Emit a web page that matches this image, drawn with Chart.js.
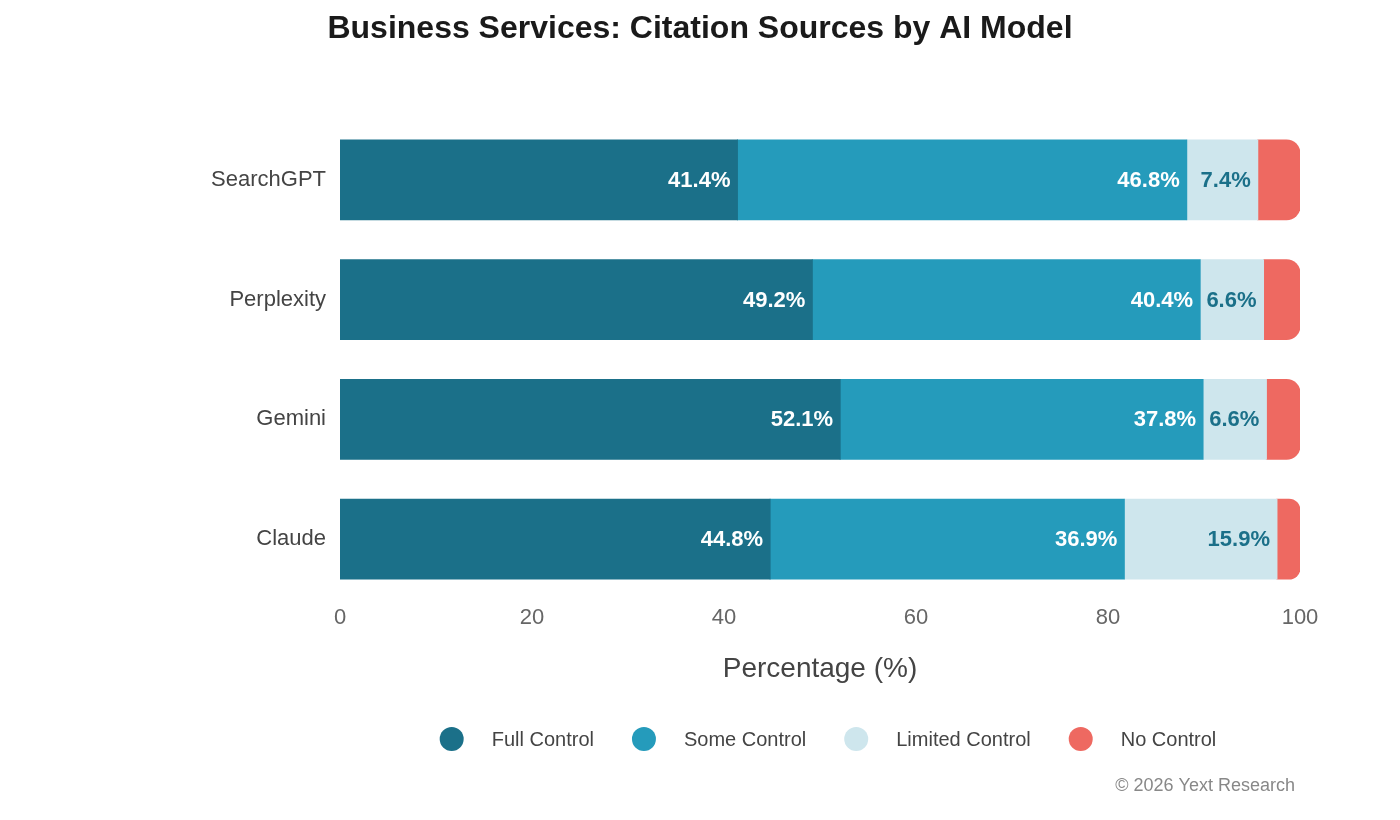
<!DOCTYPE html>
<html>
<head>
<meta charset="utf-8">
<title>Business Services: Citation Sources by AI Model</title>
<script src="https://cdn.jsdelivr.net/npm/chart.js@4.4.1/dist/chart.umd.min.js"></script>
<style>
  html, body { margin: 0; padding: 0; background: #fff; }
  #wrap { width: 1400px; height: 820px; position: relative; }
</style>
</head>
<body>
<div id="wrap"><canvas id="chart" width="1400" height="820"></canvas></div>
<script>
// data
const models = ['SearchGPT', 'Perplexity', 'Gemini', 'Claude'];
const fullControl = [41.4, 49.2, 52.1, 44.8];
const someControl = [46.8, 40.4, 37.8, 36.9];
const limitedControl = [7.4, 6.6, 6.6, 15.9];
const noControl = [4.4, 3.8, 3.5, 2.4];
const seriesNames = ['Full Control', 'Some Control', 'Limited Control', 'No Control'];
const xTicks = [0, 20, 40, 60, 80, 100];

const colors = ['#1b7089', '#259bbb', '#cee6ed', '#ee6961'];
const labelColors = ['#ffffff', '#ffffff', '#1b7089', null];
const FONT = "'Liberation Sans', Arial, sans-serif";
const TITLE = 'Business Services: Citation Sources by AI Model';

Chart.defaults.font.family = FONT;

// value labels, right aligned inside each segment
const segmentLabels = {
  id: 'segmentLabels',
  afterDatasetsDraw(chart) {
    const ctx = chart.ctx;
    ctx.save();
    ctx.font = 'bold 22px ' + FONT;
    ctx.textAlign = 'right';
    ctx.textBaseline = 'middle';
    chart.data.datasets.forEach((ds, i) => {
      if (!labelColors[i]) return;
      ctx.fillStyle = labelColors[i];
      chart.getDatasetMeta(i).data.forEach((bar, j) => {
        ctx.fillText(ds.data[j].toFixed(1) + '%', bar.x - 7, bar.y + 1);
      });
    });
    ctx.restore();
  }
};

// page title (centred on the whole canvas), legend with round markers, footer note
const decorations = {
  id: 'decorations',
  afterDraw(chart) {
    const ctx = chart.ctx;
    ctx.save();
    ctx.font = 'bold 32px ' + FONT;
    ctx.fillStyle = '#1a1a1a';
    ctx.textAlign = 'center';
    ctx.textBaseline = 'middle';
    ctx.fillText(TITLE, chart.width / 2, 29);

    ctx.font = '20px ' + FONT;
    const items = chart.data.datasets.map(ds => ({ text: ds.label, color: ds.backgroundColor }));
    const r = 12, gapIn = 28, gapOut = 38;
    let total = 0;
    items.forEach((it, i) => {
      it.w = ctx.measureText(it.text).width;
      total += 2 * r + gapIn + it.w + (i < items.length - 1 ? gapOut : 0);
    });
    let x = 828 - total / 2;
    const y = 739;
    items.forEach(it => {
      ctx.fillStyle = it.color;
      ctx.beginPath();
      ctx.arc(x + r, y, r, 0, Math.PI * 2);
      ctx.fill();
      ctx.fillStyle = '#444444';
      ctx.textAlign = 'left';
      ctx.fillText(it.text, x + 2 * r + gapIn, y + 1);
      x += 2 * r + gapIn + it.w + gapOut;
    });
    ctx.font = '18px ' + FONT;
    ctx.fillStyle = '#888888';
    ctx.textAlign = 'right';
    ctx.fillText('\u00a9 2026 Yext Research', 1295, 786);
    ctx.restore();
  }
};

const seriesData = [fullControl, someControl, limitedControl, noControl];

new Chart(document.getElementById('chart'), {
  type: 'bar',
  data: {
    labels: models,
    datasets: seriesData.map((vals, i) => ({
      label: seriesNames[i],
      data: vals,
      backgroundColor: colors[i],
      borderWidth: 0,
      borderSkipped: false,
      inflateAmount: 0.5,
      borderRadius: i === 3 ? { topLeft: 0, bottomLeft: 0, topRight: 14, bottomRight: 14 } : 0,
      categoryPercentage: 1,
      barPercentage: 2 / 3
    }))
  },
  options: {
    indexAxis: 'y',
    responsive: false,
    animation: false,
    devicePixelRatio: 1,
    layout: { padding: { left: 0, right: 100, top: 120, bottom: 134 } },
    plugins: {
      legend: { display: false },
      tooltip: { enabled: false },
      title: { display: false }
    },
    scales: {
      x: {
        stacked: true,
        min: 0,
        max: 100,
        afterBuildTicks: (scale) => { scale.ticks = xTicks.map(v => ({ value: v })); },
        grid: { display: false, drawTicks: false },
        border: { display: false },
        ticks: { color: '#666666', font: { size: 22 }, padding: 6 },
        title: {
          display: true,
          text: 'Percentage (%)',
          color: '#444444',
          font: { size: 28 },
          padding: { top: 15, bottom: 0 }
        }
      },
      y: {
        stacked: true,
        grid: { display: false, drawTicks: false },
        border: { display: false },
        ticks: { color: '#444444', font: { size: 22 }, padding: 14 },
        afterFit: (scale) => { scale.width = 340; }
      }
    }
  },
  plugins: [segmentLabels, decorations]
});
</script>
</body>
</html>
